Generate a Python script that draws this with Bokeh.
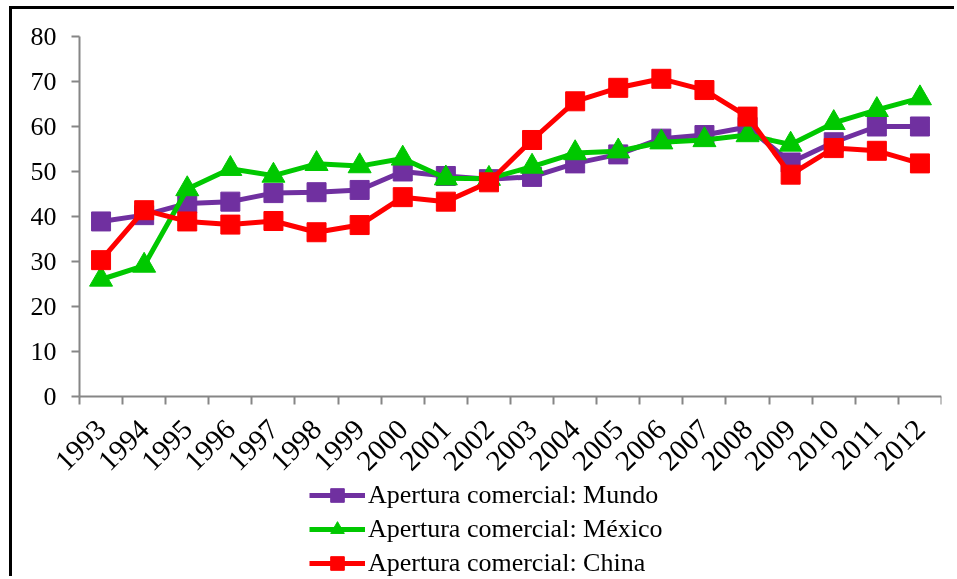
import math
from bokeh.plotting import figure
from bokeh.models import FixedTicker, Range1d, Legend, LegendItem
from bokeh.embed import file_html
from bokeh.resources import INLINE

years = list(range(1993, 2013))
mundo = [38.9, 40.3, 42.9, 43.3, 45.2, 45.4, 45.9, 50.0, 49.0, 48.3, 48.8, 51.8,
         53.8, 57.3, 58.1, 59.9, 52.0, 56.5, 60.0, 60.0]
mexico = [26.0, 29.1, 46.1, 50.6, 49.1, 51.7, 51.2, 52.9, 48.5, 48.4, 51.1, 54.1,
          54.5, 56.5, 57.0, 58.1, 56.0, 60.8, 63.7, 66.3]
china = [30.3, 41.4, 38.9, 38.2, 39.0, 36.5, 38.1, 44.3, 43.3, 47.6, 57.0, 65.6,
         68.6, 70.6, 68.1, 62.2, 49.3, 55.2, 54.6, 51.8]
labels = ["Apertura comercial: Mundo", "Apertura comercial: México", "Apertura comercial: China"]
colors = ["#7030A0", "#00C800", "#FF0000"]
y_ticks = [0, 10, 20, 30, 40, 50, 60, 70, 80]

FONT = "Liberation Serif"
FS = "26px"
XFS = "29px"
AXIS_GRAY = "#868686"

X0, X1 = years[0] - 0.5, years[-1] + 0.5
Y0, Y1 = 0, 80

# The frame covers the whole canvas so the legend and labels are never clipped;
# both axes are pinned inside it and bounded to the data extent.
p = figure(width=945, height=570, output_backend="svg", toolbar_location=None,
           x_range=Range1d(X0 - 1.5545, X1), y_range=Range1d(Y0 - 40.667, Y1 + 6.0),
           min_border_left=0, min_border_right=16, min_border_top=0, min_border_bottom=0,
           styles={"position": "fixed", "top": "6px", "left": "9px",
                   "border-top": "3px solid black", "border-left": "3px solid black"})
p.outline_line_color = None
p.xgrid.grid_line_color = None
p.ygrid.grid_line_color = None
p.background_fill_color = "white"
p.border_fill_color = "white"

# category axis
p.xaxis.fixed_location = Y0
p.xaxis.bounds = (X0, X1)
p.xaxis.ticker = FixedTicker(ticks=years, minor_ticks=[y - 0.5 for y in years] + [X1])
p.xaxis.major_label_orientation = math.pi / 4
p.xaxis.major_tick_line_color = None
p.xaxis.major_tick_out = 8
p.xaxis.major_tick_in = 0
p.xaxis.minor_tick_line_color = AXIS_GRAY
p.xaxis.minor_tick_line_width = 2
p.xaxis.minor_tick_out = 8
p.xaxis.minor_tick_in = 0
p.xaxis.major_label_standoff = 20

# value axis
p.yaxis.fixed_location = X0
p.yaxis.bounds = (Y0, Y1)
p.yaxis.ticker = FixedTicker(ticks=y_ticks, minor_ticks=[])
p.yaxis.major_tick_line_color = AXIS_GRAY
p.yaxis.major_tick_line_width = 2
p.yaxis.major_tick_out = 8
p.yaxis.major_tick_in = 0
p.yaxis.minor_tick_line_color = None
p.yaxis.major_label_standoff = 15

for ax in (p.xaxis, p.yaxis):
    ax.axis_line_color = AXIS_GRAY
    ax.axis_line_width = 2
    ax.major_label_text_font = FONT
    ax.major_label_text_color = "black"
p.yaxis.major_label_text_font_size = FS
p.xaxis.major_label_text_font_size = XFS

items = []
series = [mundo, mexico, china]
markers = ["square", "triangle", "square"]
sizes = [19, 23, 19]
for vals, lab, col, mk, sz in zip(series, labels, colors, markers, sizes):
    ln = p.line(years, vals, line_color=col, line_width=5)
    sc = p.scatter(years, vals, marker=mk, size=sz, fill_color=col, line_color=col)
    items.append(LegendItem(label=lab, renderers=[ln, sc]))

legend = Legend(items=items, location=(297, -1), orientation="vertical",
                label_text_font=FONT, label_text_font_size=FS, label_text_color="black",
                glyph_width=56, glyph_height=34, label_height=34, spacing=0,
                label_standoff=3, padding=0, margin=0,
                border_line_color=None, background_fill_alpha=0)
p.add_layout(legend, "center")

open("out.html", "w").write(file_html(p, INLINE))
